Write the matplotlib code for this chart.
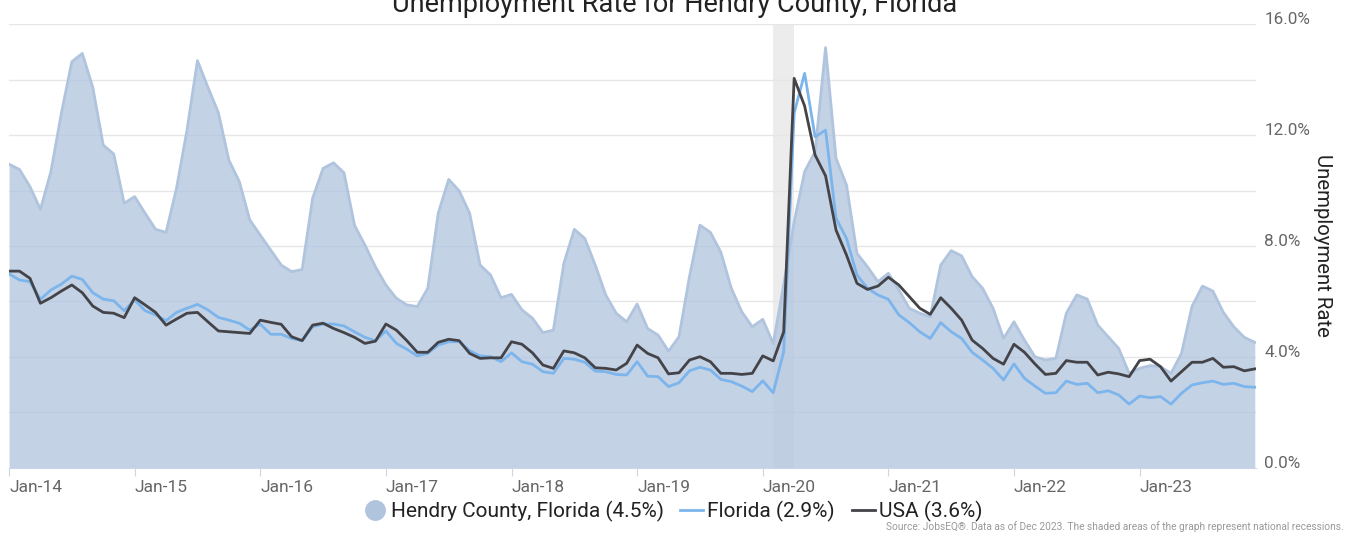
import numpy as np
import matplotlib
matplotlib.use("Agg")
import matplotlib.pyplot as plt
import matplotlib.transforms as mtransforms
from matplotlib.lines import Line2D
from matplotlib.ticker import FixedLocator, FuncFormatter

plt.rcParams['font.family'] = ['Roboto', 'DejaVu Sans']

# monthly values, Jan 2014 .. Dec 2023
hendry = [10.95, 10.76, 10.14, 9.32, 10.68, 12.79, 14.65, 14.95, 13.73, 11.64, 11.32, 9.54,
          9.78, 9.18, 8.60, 8.49, 10.08, 12.18, 14.69, 13.73, 12.81, 11.10, 10.32, 8.94,
          8.39, 7.85, 7.31, 7.07, 7.15, 9.72, 10.80, 11.00, 10.64, 8.75, 8.03, 7.25,
          6.59, 6.11, 5.87, 5.81, 6.47, 9.18, 10.40, 9.99, 9.18, 7.31, 6.95, 6.13,
          6.25, 5.69, 5.39, 4.87, 4.96, 7.37, 8.60, 8.27, 7.31, 6.23, 5.57, 5.26,
          5.90, 5.02, 4.78, 4.20, 4.72, 6.89, 8.75, 8.49, 7.77, 6.47, 5.62, 5.08,
          5.35, 4.48, 6.60, 8.87, 10.68, 11.40, 15.16, 11.16, 10.20, 7.73, 7.25, 6.71,
          7.01, 6.41, 5.75, 5.57, 5.44, 7.31, 7.83, 7.64, 6.89, 6.47, 5.75, 4.66,
          5.26, 4.60, 4.00, 3.88, 3.94, 5.57, 6.23, 6.08, 5.14, 4.72, 4.30, 3.40,
          3.58, 3.68, 3.64, 3.40, 4.12, 5.81, 6.55, 6.37, 5.60, 5.08, 4.70, 4.52]

florida = [6.99, 6.77, 6.71, 6.07, 6.41, 6.62, 6.91, 6.79, 6.31, 6.08, 6.02, 5.66,
           6.05, 5.66, 5.51, 5.30, 5.60, 5.75, 5.89, 5.69, 5.42, 5.32, 5.21, 4.96,
           5.18, 4.81, 4.81, 4.66, 4.58, 5.08, 5.18, 5.18, 5.11, 4.90, 4.70, 4.58,
           4.93, 4.48, 4.27, 4.03, 4.12, 4.42, 4.54, 4.54, 4.22, 4.03, 4.00, 3.82,
           4.14, 3.82, 3.73, 3.46, 3.40, 3.94, 3.91, 3.80, 3.48, 3.46, 3.36, 3.34,
           3.82, 3.30, 3.28, 2.92, 3.06, 3.49, 3.62, 3.52, 3.18, 3.10, 2.94, 2.74,
           3.13, 2.70, 4.18, 12.79, 14.23, 11.94, 12.18, 9.00, 8.27, 6.95, 6.47, 6.23,
           6.07, 5.51, 5.23, 4.90, 4.66, 5.23, 4.90, 4.66, 4.16, 3.88, 3.58, 3.16,
           3.74, 3.22, 2.94, 2.68, 2.70, 3.12, 3.00, 3.04, 2.70, 2.77, 2.62, 2.29,
           2.58, 2.52, 2.56, 2.29, 2.68, 2.98, 3.06, 3.12, 3.00, 3.04, 2.92, 2.90]

usa = [7.09, 7.09, 6.83, 5.93, 6.13, 6.37, 6.59, 6.31, 5.83, 5.60, 5.57, 5.41,
       6.13, 5.87, 5.60, 5.14, 5.36, 5.57, 5.60, 5.26, 4.93, 4.90, 4.87, 4.84,
       5.32, 5.24, 5.17, 4.72, 4.58, 5.14, 5.21, 5.02, 4.87, 4.70, 4.48, 4.56,
       5.18, 4.96, 4.58, 4.16, 4.16, 4.52, 4.63, 4.58, 4.12, 3.94, 3.96, 3.96,
       4.54, 4.45, 4.14, 3.70, 3.58, 4.21, 4.14, 3.96, 3.60, 3.58, 3.52, 3.76,
       4.42, 4.12, 3.96, 3.38, 3.42, 3.88, 4.00, 3.82, 3.40, 3.40, 3.36, 3.40,
       4.03, 3.85, 4.90, 14.05, 13.05, 11.28, 10.53, 8.57, 7.67, 6.65, 6.43, 6.55,
       6.87, 6.59, 6.17, 5.75, 5.53, 6.13, 5.75, 5.32, 4.60, 4.30, 3.94, 3.73,
       4.45, 4.16, 3.74, 3.36, 3.40, 3.86, 3.80, 3.80, 3.34, 3.44, 3.38, 3.28,
       3.86, 3.91, 3.64, 3.12, 3.46, 3.80, 3.80, 3.94, 3.62, 3.64, 3.49, 3.56]

year_labels = ['Jan-14', 'Jan-15', 'Jan-16', 'Jan-17', 'Jan-18',
               'Jan-19', 'Jan-20', 'Jan-21', 'Jan-22', 'Jan-23']
recession = (73, 75)  # Feb-20 .. Apr-20 as month index

x = np.arange(len(hendry))

fig = plt.figure(figsize=(13.46, 5.37), dpi=100)
ax = fig.add_axes([0.0067, 0.1294, 0.9263, 0.8253])

ax.axvspan(recession[0], recession[1], color='#ececec', zorder=0, lw=0)
ax.fill_between(x, 0, hendry, color='#b0c4de', alpha=0.75, lw=0, zorder=2)
ax.plot(x, hendry, color='#b0c4de', lw=2, zorder=3)
ax.plot(x, florida, color='#7cb5ec', lw=2, zorder=4)
ax.plot(x, usa, color='#434348', lw=2, zorder=5)

ax.set_xlim(0, 119.1)
ax.set_ylim(0, 16)

# y axis on the right, labels sit a little above their grid line
ax.yaxis.tick_right()
ax.yaxis.set_label_position('right')
ax.yaxis.set_major_locator(FixedLocator([0, 4, 8, 12, 16]))
ax.yaxis.set_minor_locator(FixedLocator([2, 6, 10, 14]))
ax.yaxis.set_major_formatter(FuncFormatter(lambda v, p: f'{v:.1f}%'))
ax.tick_params(axis='y', which='both', length=0, pad=6, labelsize=12.3, labelcolor='#666666')
shift = mtransforms.ScaledTranslation(0, 0.06, fig.dpi_scale_trans)
for lab in ax.get_yticklabels():
    lab.set_transform(lab.get_transform() + shift)
ax.grid(axis='y', which='both', color='#e6e6e6', lw=1)
ax.set_axisbelow(True)
ax.set_ylabel('Unemployment Rate', rotation=270, fontsize=14.7, color='#222222', labelpad=16)

# x axis
ax.set_xticks(np.arange(0, 120, 12))
ax.set_xticklabels(year_labels, ha='left')
ax.tick_params(axis='x', length=6, color='#ccd6eb', labelsize=12.5, labelcolor='#666666', pad=3)

for s in ['top', 'left', 'right']:
    ax.spines[s].set_visible(False)
ax.spines['bottom'].set_color('#ccd6eb')

fig.text(0.5015, 1 - 11.5 / 537, 'Unemployment Rate for Hendry County, Florida',
         ha='center', va='baseline', fontsize=19.5, color='#222222')

handles = [
    Line2D([], [], marker='o', ls='none', markersize=14, color='#b0c4de'),
    Line2D([], [], color='#7cb5ec', lw=2),
    Line2D([], [], color='#434348', lw=2),
]
fig.legend(handles, ['Hendry County, Florida (4.5%)', 'Florida (2.9%)', 'USA (3.6%)'],
           loc='center', bbox_to_anchor=(0.5, 0.048), ncol=3, frameon=False,
           fontsize=15, handlelength=1.1, handletextpad=0.2, columnspacing=0.8,
           labelcolor='#222222')

fig.text(0.998, 0.01, 'Source: JobsEQ®. Data as of Dec 2023. The shaded areas of the graph represent national recessions.',
         ha='right', va='bottom', fontsize=7.3, color='#999999')

fig.savefig('out.png', dpi=100)
